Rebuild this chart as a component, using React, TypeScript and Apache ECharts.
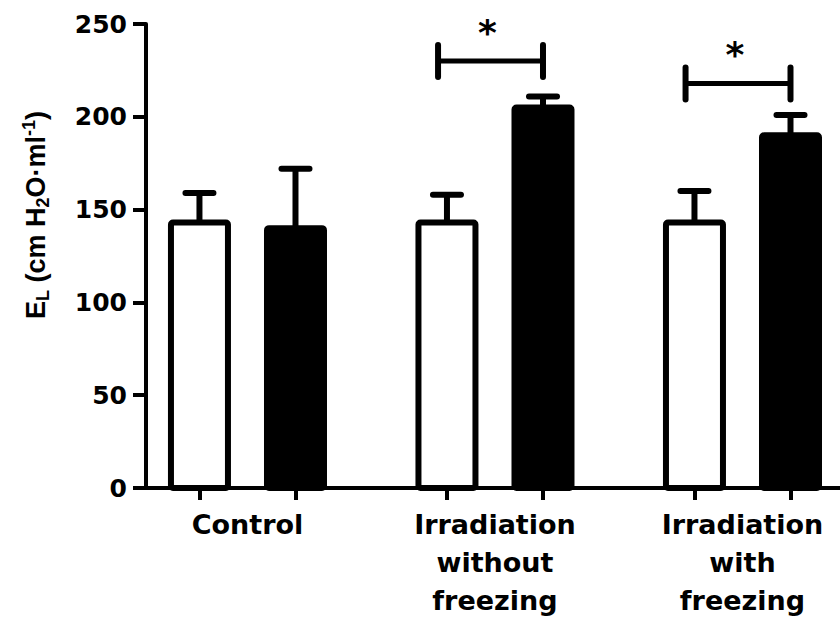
import React, { useEffect, useRef } from "react";
import * as echarts from "echarts";

// ---- data ----
const categories = ["Control", "Irradiation\nwithout\nfreezing", "Irradiation\nwith\nfreezing"];
const groupCenters = [1, 2, 3];
const whiteMeans = [143, 143, 143];
const whiteSD = [16, 15, 17];
const blackMeans = [140, 205, 190];
const blackSD = [32, 6, 11];
const barOffset = 0.194;
// significance brackets: [from x, to x, y]
const sigFrom = [1.77, 2.77];
const sigTo = [2.194, 3.194];
const sigY = [230, 218];
const yTicks = { min: 0, max: 250, interval: 50 };
const xRange = { min: 0.59, max: 3.394 };

const FONT = "DejaVu Sans";
const NAME_FONT = "Liberation Sans";

export default function App() {
  const ref = useRef<HTMLDivElement>(null);
  useEffect(() => {
    if (!ref.current) return;
    const chart = echarts.init(ref.current, undefined, { renderer: "svg" });

    const barData: number[][] = [];
    groupCenters.forEach((c, i) => {
      barData.push([c - barOffset, whiteMeans[i], whiteSD[i], 0]);
      barData.push([c + barOffset, blackMeans[i], blackSD[i], 1]);
    });
    const tickPositions = barData.map((d) => d[0]);
    const sigData = sigFrom.map((f, i) => [f, sigTo[i], sigY[i]]);

    const option: any = {
      animation: false,
      backgroundColor: "#ffffff",
      grid: { left: 146, right: 0, top: 24, bottom: 129 },
      xAxis: {
        type: "value",
        min: xRange.min,
        max: xRange.max,
        splitLine: { show: false },
        axisLine: { show: true, lineStyle: { color: "#000", width: 4 } },
        axisTick: {
          show: true,
          customValues: tickPositions,
          length: 12,
          lineStyle: { color: "#000", width: 4 },
        },
        axisLabel: {
          customValues: groupCenters,
          formatter: (v: number) => categories[Math.round(v) - 1] ?? "",
          color: "#000",
          fontFamily: FONT,
          fontWeight: "bold",
          fontSize: 27,
          lineHeight: 38,
          margin: 17,
          align: "center",
        },
      },
      yAxis: {
        type: "value",
        min: yTicks.min,
        max: yTicks.max,
        interval: yTicks.interval,
        splitLine: { show: false },
        axisLine: { show: true, lineStyle: { color: "#000", width: 4 } },
        axisTick: { show: true, length: 13, lineStyle: { color: "#000", width: 4 } },
        axisLabel: {
          color: "#000",
          fontFamily: FONT,
          fontWeight: "bold",
          fontSize: 25,
          margin: 19,
        },
      },
      graphic: [
        {
          type: "text",
          x: 36,
          y: 215,
          rotation: Math.PI / 2,
          style: {
            text: "{a|E}{s|L}{a| (cm H}{s|2}{a|O·ml}{p|-1}{a|)}",
            align: "center",
            verticalAlign: "middle",
            fill: "#000",
            rich: {
              a: { fontFamily: NAME_FONT, fontWeight: "bold", fontSize: 27, lineHeight: 32, verticalAlign: "middle", fill: "#000" },
              s: { fontFamily: NAME_FONT, fontWeight: "bold", fontSize: 18, lineHeight: 18, verticalAlign: "bottom", fill: "#000" },
              p: { fontFamily: NAME_FONT, fontWeight: "bold", fontSize: 18, lineHeight: 18, verticalAlign: "top", fill: "#000" },
            },
          },
        },
      ],
      series: [
        {
          type: "custom",
          data: barData,
          renderItem: (params: any, api: any) => {
            const x = api.value(0);
            const mean = api.value(1);
            const sd = api.value(2);
            const dark = api.value(3) === 1;
            const top = api.coord([x, mean]);
            const base = api.coord([x, 0]);
            const err = api.coord([x, mean + sd]);
            const w = 57;
            return {
              type: "group",
              children: [
                {
                  type: "line",
                  shape: { x1: top[0], y1: top[1], x2: err[0], y2: err[1] },
                  style: { stroke: "#000", lineWidth: 6 },
                },
                {
                  type: "line",
                  shape: { x1: err[0] - 14, y1: err[1], x2: err[0] + 14, y2: err[1] },
                  style: { stroke: "#000", lineWidth: 6, lineCap: "round" },
                },
                {
                  type: "rect",
                  shape: { x: top[0] - w / 2, y: top[1], width: w, height: base[1] - top[1], r: 2 },
                  style: { fill: dark ? "#000" : "#fff", stroke: "#000", lineWidth: 6 },
                },
              ],
            };
          },
          z: 3,
        },
        {
          type: "custom",
          data: sigData,
          renderItem: (params: any, api: any) => {
            const a = api.coord([api.value(0), api.value(2)]);
            const b = api.coord([api.value(1), api.value(2)]);
            return {
              type: "group",
              children: [
                { type: "line", shape: { x1: a[0], y1: a[1], x2: b[0], y2: b[1] }, style: { stroke: "#000", lineWidth: 5 } },
                { type: "line", shape: { x1: a[0], y1: a[1] - 16, x2: a[0], y2: a[1] + 16 }, style: { stroke: "#000", lineWidth: 6, lineCap: "round" } },
                { type: "line", shape: { x1: b[0], y1: b[1] - 16, x2: b[0], y2: b[1] + 16 }, style: { stroke: "#000", lineWidth: 6, lineCap: "round" } },
                {
                  type: "text",
                  x: (a[0] + b[0]) / 2 - 3,
                  y: a[1] - 29,
                  style: {
                    text: "*",
                    fill: "#000",
                    fontFamily: FONT,
                    fontWeight: "bold",
                    fontSize: 36,
                    align: "center",
                    verticalAlign: "middle",
                  },
                },
              ],
            };
          },
          z: 4,
        },
      ],
    };
    chart.setOption(option);
    return () => chart.dispose();
  }, []);

  return (
    <div
      ref={ref}
      style={{ position: "fixed", left: 0, top: 0, width: 840, height: 619, background: "#fff" }}
    />
  );
}
